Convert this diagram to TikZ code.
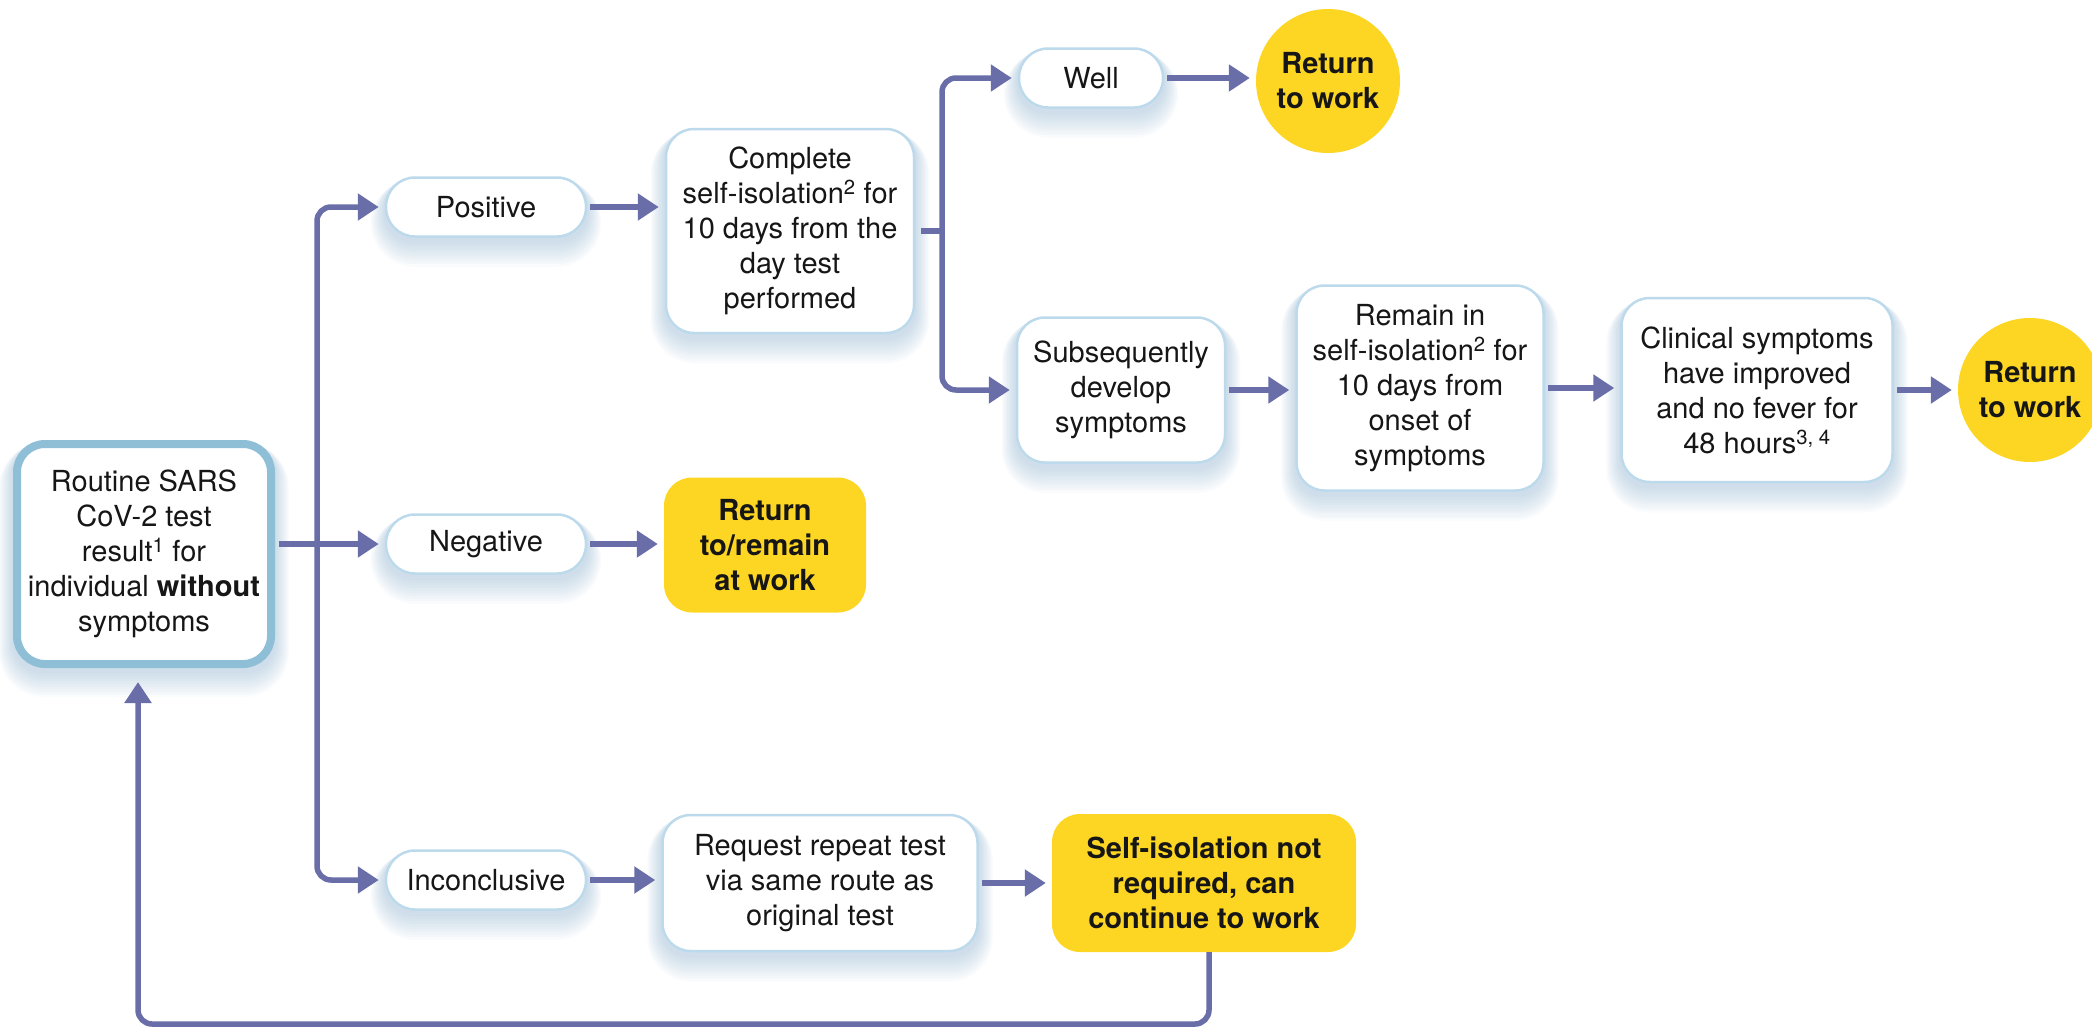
\documentclass[tikz,border=0pt]{standalone}
\usepackage{fontspec}
\setmainfont{TeX Gyre Heros}
\usetikzlibrary{arrows.meta,calc}
\definecolor{linec}{HTML}{6A6EA8}
\definecolor{bord}{HTML}{BCDAEB}
\definecolor{rbord}{HTML}{8EBFD7}
\definecolor{yel}{HTML}{FDD523}
\definecolor{glowc}{HTML}{6F9CC0}
\definecolor{txt}{HTML}{161616}
\pgfdeclarelayer{bg}
\pgfsetlayers{bg,main}
\newcommand\glowunder[2]{%
  \foreach \i in {1,...,10}{%
    \fill[glowc, opacity=0.04, rounded corners=#2pt+\i*1.5pt]
      ([xshift=-\i*1.4pt, yshift=-3pt]#1.north west) rectangle
      ([xshift=\i*1.4pt, yshift=-\i*2.6pt-3pt]#1.south east);
  }}
\begin{document}
\begin{tikzpicture}[x=1pt,y=-1pt,
  every node/.style={font=\fontsize{29}{35}\selectfont, text=txt, align=center, inner sep=0pt},
  box/.style={draw=bord, line width=2.5pt, fill=white, rounded corners=28pt},
  pill/.style={draw=bord, line width=2.5pt, fill=white, rounded corners=29pt, minimum height=59pt},
  ybox/.style={fill=yel, rounded corners=28pt, font=\bfseries\fontsize{29}{35}\selectfont},
  ycirc/.style={circle, fill=yel, minimum size=144pt, font=\bfseries\fontsize{29}{35}\selectfont},
  arr/.style={draw=linec, line width=5.5pt, -{Triangle[length=21pt,width=26pt]}, shorten >=6pt, shorten <=3pt, rounded corners=14pt},
]
\useasboundingbox (0,0) rectangle (2092,1028);
\clip (0,0) rectangle (2092,1028);

% nodes
\node[box, draw=rbord, line width=8pt, minimum width=254pt, minimum height=220pt] (routine) at (144,554)
  {Routine SARS\\CoV-2 test\\result\textsuperscript{1} for\\individual \textbf{without}\\symptoms};
\node[pill, minimum width=200pt] (pos) at (486,207) {Positive};
\node[pill, minimum width=200pt] (neg) at (486,544) {Negative};
\node[pill, minimum width=200pt] (inc) at (486,880) {Inconclusive};
\node[box, minimum width=248pt, minimum height=204pt] (complete) at (790,231)
  {Complete\\self-isolation\textsuperscript{2} for\\10 days from the\\day test\\performed};
\node[ybox, minimum width=202pt, minimum height=135pt] (negy) at (765,545)
  {Return\\to/remain\\at work};
\node[box, minimum width=315pt, minimum height=136pt] (req) at (820,883)
  {Request repeat test\\via same route as\\original test};
\node[ybox, minimum width=304pt, minimum height=138pt] (self) at (1204,883)
  {Self-isolation not\\required, can\\continue to work};
\node[pill, minimum width=144pt] (well) at (1091,78) {Well};
\node[ycirc] (ret1) at (1328,81) {Return\\to work};
\node[box, minimum width=208pt, minimum height=145pt] (subs) at (1121,390)
  {Subsequently\\develop\\symptoms};
\node[box, minimum width=247pt, minimum height=205pt] (remain) at (1420,388)
  {Remain in\\self-isolation\textsuperscript{2} for\\10 days from\\onset of\\symptoms};
\node[box, minimum width=271pt, minimum height=184pt] (clin) at (1757,390)
  {Clinical symptoms\\have improved\\and no fever for\\48 hours\textsuperscript{3, 4}};
\node[ycirc] (ret2) at (2030,390) {Return\\to work};

% glows
\begin{pgfonlayer}{bg}
  \glowunder{routine}{30}
  \glowunder{pos}{29}
  \glowunder{neg}{29}
  \glowunder{inc}{29}
  \glowunder{well}{29}
  \glowunder{complete}{28}
  \glowunder{req}{28}
  \glowunder{subs}{28}
  \glowunder{remain}{28}
  \glowunder{clin}{28}
\end{pgfonlayer}

% connectors
\coordinate (t) at (317,544);
\coordinate (b) at (942,231);
\coordinate (lb) at (1209,1024);
\coordinate (la) at (138,1024);
\draw[arr, shorten <=4pt] (routine.east |- t) -- (neg.west);
\draw[arr] (t) |- (pos.west);
\draw[arr] (t) |- (inc.west);
\draw[arr] (pos.east) -- (pos.east -| complete.west);
\draw[arr] (neg.east) -- (neg.east -| negy.west);
\draw[arr] (inc.east) -- (inc.east -| req.west);
\draw[arr] (req.east) -- (req.east -| self.west);
\draw[arr, -, shorten >=-2.75pt] ([xshift=3pt]complete.east |- b) -- (b);
\draw[arr] (b) |- (well.west);
\draw[arr] (b) |- (subs.west);
\draw[arr] (well.east) -- (well.east -| ret1.west);
\draw[arr] (subs.east) -- (subs.east -| remain.west);
\draw[arr] (remain.east) -- (remain.east -| clin.west);
\draw[arr] (clin.east) -- (clin.east -| ret2.west);
\draw[arr, shorten <=0pt, shorten >=14pt] (self.south -| lb) -- (lb) -- (la) -- (routine.south -| la);
\end{tikzpicture}
\end{document}
